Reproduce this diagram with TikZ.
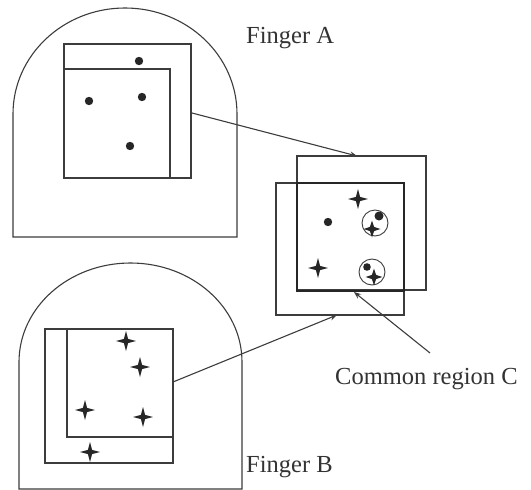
\documentclass[tikz,border=0pt]{standalone}
\usepackage{fontspec}
\setmainfont{Liberation Serif}
\usetikzlibrary{arrows.meta}
\definecolor{ink}{HTML}{3C3C3C}
\tikzset{
  thinline/.style={draw=ink, line width=1.1pt},
  thickline/.style={draw=black!85, line width=2.6pt},
  conn/.style={draw=ink, line width=1.1pt, -{Stealth[length=7pt,width=5.5pt]}},
  lbl/.style={text=black!80, font=\fontsize{24.5}{28}\selectfont, inner sep=0pt},
  fdot/.style={fill=black!85, draw=none},
  pics/fstar/.style={code={
    \fill[black!85] (0,#1) -- (2.1,2.1) -- (#1,0) -- (2.1,-2.1) -- (0,-#1) -- (-2.1,-2.1) -- (-#1,0) -- (-2.1,2.1) -- cycle;
  }}
}
\begin{document}
\begin{tikzpicture}[x=1pt,y=-1pt]
\useasboundingbox (0,0) rectangle (531,490);
% Finger A outline
\draw[thinline] (13,237) -- (13,114) arc[start angle=180,end angle=360,x radius=112,y radius=106] -- (237,237) -- cycle;
% Finger A rectangles
\draw[thinline] (64,44) rectangle (191,178);
\draw[thinline] (64,69) rectangle (170,178);
\fill[fdot] (139,61) circle (4.2);
\fill[fdot] (89,101) circle (4.2);
\fill[fdot] (142,97) circle (4.2);
\fill[fdot] (130,146) circle (4.2);
% Finger B outline
\draw[thinline] (19,489) -- (19,362) arc[start angle=180,end angle=360,x radius=111.5,y radius=99] -- (242,489) -- cycle;
\draw[thinline] (45,329) rectangle (173,463);
\draw[thinline] (67,329) rectangle (173,437);
\pic at (126,341) {fstar=10};
\pic at (140,367) {fstar=10};
\pic at (85,410) {fstar=10};
\pic at (143,417) {fstar=10};
\pic at (90,452) {fstar=10};
% Middle overlay
\draw[thinline] (297,156) rectangle (426,290);
\draw[thinline] (276,183) rectangle (404,315);
\draw[thickline] (297,183) rectangle (404,291);
\pic at (358,199) {fstar=10};
\fill[fdot] (328,222) circle (4.2);
\pic at (318,268) {fstar=10};
\draw[thinline, line width=0.9pt] (375,223) circle (13);
\fill[fdot] (379,216) circle (4.5);
\pic at (372,229) {fstar=8.5};
\draw[thinline, line width=0.9pt] (372,272) circle (13);
\fill[fdot] (367,267) circle (3.8);
\pic at (374,277) {fstar=8.5};
% Connector coordinates
\coordinate (aout) at (192,113);
\coordinate (ain) at (357,156);
\coordinate (bout) at (173,382);
\coordinate (bin) at (337,315);
\coordinate (cfrom) at (430,353);
\coordinate (cin) at (354,292);
\draw[conn] (aout) -- (ain);
\draw[conn] (bout) -- (bin);
\draw[conn] (cfrom) -- (cin);
% Labels
\node[lbl, anchor=base west] (fa) at (246,43) {Finger A};
\node[lbl, anchor=base west] (fb) at (246,472) {Finger B};
\node[lbl, anchor=base west] (cr) at (335,384) {Common region C};
\end{tikzpicture}
\end{document}
